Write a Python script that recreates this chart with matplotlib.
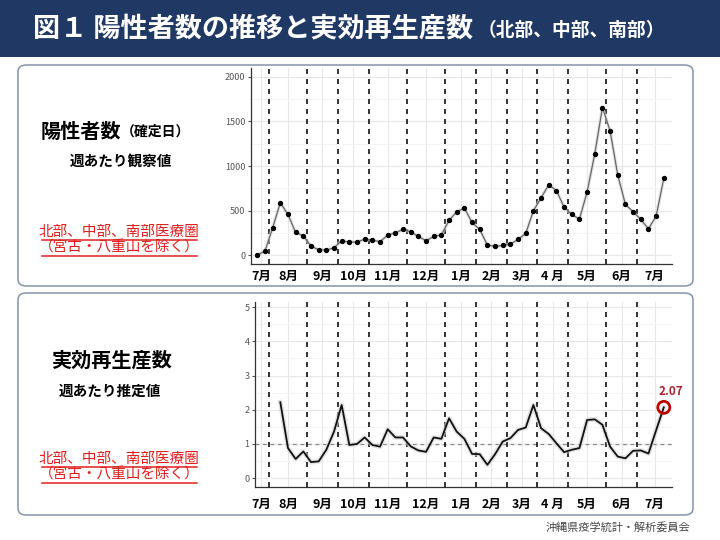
import numpy as np
import matplotlib.pyplot as plt
from matplotlib.patches import FancyBboxPatch, Rectangle

plt.rcParams['font.family'] = ['Noto Sans CJK JP', 'DejaVu Sans']

# weekly positive cases (North, Central, South), July -> July
cases = [0, 45, 306, 587, 456, 254, 217, 101, 60, 56, 82, 161, 146, 146, 179,
         168, 150, 224, 250, 288, 262, 209, 161, 209, 228, 389, 486, 527,
         366, 288, 112, 97, 108, 123, 176, 243, 497, 643, 789, 725, 538, 456,
         404, 707, 1136, 1656, 1394, 897, 568, 486, 400, 295, 437, 860]

# weekly effective reproduction number, starts at week 3
rt_start = 3
rt = [2.22, 0.88, 0.56, 0.78, 0.47, 0.49, 0.83, 1.36, 2.14, 0.97, 1.00, 1.19,
      0.97, 0.92, 1.43, 1.19, 1.19, 0.93, 0.81, 0.77, 1.19, 1.15, 1.75, 1.36,
      1.15, 0.71, 0.70, 0.39, 0.70, 1.07, 1.17, 1.41, 1.48, 2.14, 1.46, 1.29,
      1.02, 0.76, 0.83, 0.88, 1.70, 1.72, 1.56, 0.92, 0.63, 0.58, 0.80, 0.81,
      0.72, 1.40, 2.07]

month_labels = ['7月', '8月', '9月', '10月', '11月', '12月', '1月', '2月',
                '3月', '4 月', '5月', '6月', '7月']
# month boundaries in week index
month_breaks = [1.5, 6.5, 10.5, 14.5, 19.5, 24.5, 28.5, 32.5, 36.5, 40.5, 45.5, 49.5]

W, H = 720, 540
fig = plt.figure(figsize=(7.2, 5.4), dpi=100)
fig.patch.set_facecolor('white')


def fx(x):
    return x / W


def fy(y):
    return 1 - y / H


# title bar
fig.patches.append(Rectangle((0, fy(57)), 1, 57 / H, transform=fig.transFigure,
                             facecolor='#1f3864', edgecolor='none', zorder=-2))
fig.text(fx(33), fy(29), '図１ 陽性者数の推移と実効再生産数', color='white',
         fontsize=19.5, fontweight='bold', va='center', ha='left')
fig.text(fx(478), fy(30), '（北部、中部、南部）', color='white',
         fontsize=13.5, fontweight='bold', va='center', ha='left')

# panels
for top, bottom in [(65, 286), (293, 515)]:
    fig.patches.append(FancyBboxPatch((fx(18), fy(bottom)), fx(693 - 18), (bottom - top) / H,
                                      boxstyle='round,pad=0,rounding_size=0.012',
                                      transform=fig.transFigure, facecolor='white',
                                      edgecolor='#8593a8', linewidth=1.1, zorder=-2))

# left side texts
fig.text(fx(41), fy(131), '陽性者数', fontsize=14.5, fontweight='bold', va='center')
fig.text(fx(121), fy(132), '（確定日）', fontsize=10, fontweight='bold', va='center')
fig.text(fx(121), fy(161), '週あたり観察値', fontsize=10.5, fontweight='bold',
         va='center', ha='center')
fig.text(fx(111), fy(360), '実効再生産数', fontsize=14.5, fontweight='bold',
         va='center', ha='center')
fig.text(fx(110), fy(391), '週あたり推定値', fontsize=10.5, fontweight='bold',
         va='center', ha='center')

red = '#e0201c'
for y0 in [232, 459]:
    fig.text(fx(119), fy(y0), '北部、中部、南部医療圏', fontsize=10.5, color=red,
             va='center', ha='center')
    fig.text(fx(119), fy(y0 + 16), '（宮古・八重山を除く）', fontsize=10.5, color=red,
             va='center', ha='center')
    for uy in [y0 + 8, y0 + 24]:
        fig.add_artist(plt.Line2D([fx(42), fx(197)], [fy(uy), fy(uy)],
                                  color=red, linewidth=1.1, transform=fig.transFigure))

fig.text(fx(690), fy(527), '沖縄県疫学統計・解析委員会', fontsize=8, color='#444444',
         ha='right', va='center')

label_pos = [0.5] + [(a + b) / 2 for a, b in zip(month_breaks[:-1], month_breaks[1:])] + [51.8]


def style_axes(ax):
    ax.set_zorder(2)
    for s in ['top', 'right']:
        ax.spines[s].set_visible(False)
    for s in ['left', 'bottom']:
        ax.spines[s].set_color('#333333')
        ax.spines[s].set_linewidth(0.9)
    ax.set_facecolor('white')
    ax.grid(True, which='major', color='#e8e8e8', linewidth=0.8)
    ax.grid(True, which='minor', axis='y', color='#f3f3f3', linewidth=0.6)
    ax.set_axisbelow(True)
    ax.set_xticks(label_pos)
    ax.set_xticklabels(month_labels, fontsize=9, fontweight='bold')
    ax.tick_params(axis='x', length=0)
    ax.tick_params(axis='y', labelsize=6.5, labelcolor='#555555', color='#555555',
                   length=2.5, pad=1.5)
    for xb in month_breaks:
        ax.axvline(xb, color='#111111', linestyle=(0, (3, 3)), linewidth=1.2, zorder=3)


# top chart: positive cases
weeks = np.arange(len(cases))
ax1 = fig.add_axes([fx(250.7), fy(264), fx(672 - 250.7), (264 - 68) / H])
style_axes(ax1)
ax1.plot(weeks, cases, color='#d6d6d6', linewidth=2.5, alpha=0.6, zorder=4)
ax1.plot(weeks, cases, color='#666666', linewidth=0.9, zorder=5)
ax1.scatter(weeks, cases, s=8, color='black', zorder=6)
ax1.set_xlim(-0.86, 54.07)
ax1.set_ylim(-100, 2100)
ax1.set_yticks([0, 500, 1000, 1500, 2000])
ax1.set_yticks([250, 750, 1250, 1750], minor=True)
ax1.tick_params(axis='y', which='minor', length=0)
ax1.tick_params(axis='x', pad=4)

# bottom chart: effective reproduction number
rt_weeks = np.arange(rt_start, rt_start + len(rt))
ax2 = fig.add_axes([fx(255), fy(486.7), fx(672 - 255), (486.7 - 301.7) / H])
style_axes(ax2)
ax2.axhline(1, color='#888888', linestyle=(0, (3, 3)), linewidth=0.9, zorder=2)
ax2.plot(rt_weeks, rt, color='#d4d4d4', linewidth=3.5, alpha=0.6, zorder=4)
ax2.plot(rt_weeks, rt, color='#111111', linewidth=1.3, zorder=5)
ax2.scatter(rt_weeks[-1], rt[-1], s=75, facecolors='none', edgecolors='#c00000',
            linewidths=2, zorder=7)
ax2.annotate(f'{rt[-1]:.2f}', (rt_weeks[-1], rt[-1]), xytext=(5, 7),
             textcoords='offset points', ha='center', va='bottom',
             color='#b0202a', fontsize=8.5, fontweight='bold')
ax2.set_xlim(-0.30, 54.07)
ax2.set_ylim(-0.25, 5.16)
ax2.set_yticks([0, 1, 2, 3, 4, 5])
ax2.set_yticks([0.5, 1.5, 2.5, 3.5, 4.5], minor=True)
ax2.tick_params(axis='y', which='minor', length=0)
ax2.tick_params(axis='x', pad=8)

fig.savefig('out.png', dpi=100)
